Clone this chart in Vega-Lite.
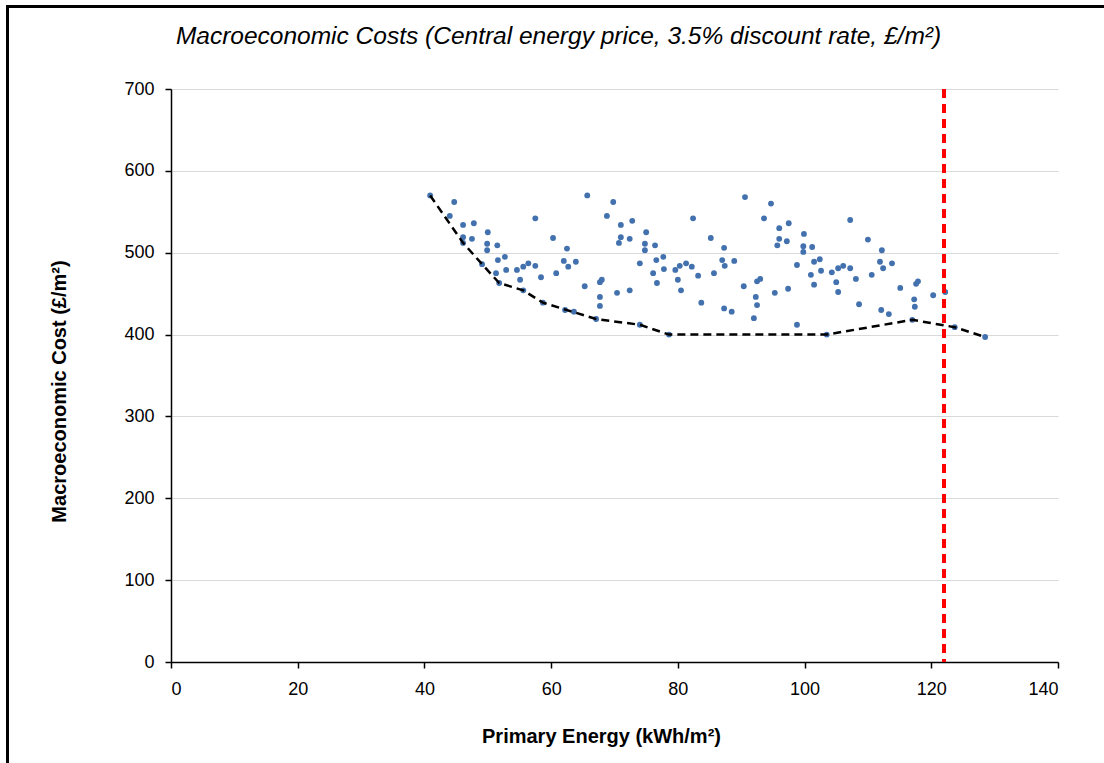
{
  "$schema": "https://vega.github.io/schema/vega-lite/v6.json",
  "width": 887,
  "height": 573,
  "autosize": {"type": "none"},
  "padding": {"left": 171, "top": 89, "right": 46, "bottom": 101},
  "background": "white",
  "title": {
    "text": "Macroeconomic Costs (Central energy price, 3.5% discount rate, £/m²)",
    "font": "Liberation Sans",
    "fontSize": 24.5,
    "fontStyle": "italic",
    "fontWeight": "normal",
    "color": "#000000",
    "frame": "group",
    "anchor": "middle",
    "dx": -56,
    "offset": -44
  },
  "config": {
    "view": {"stroke": null},
    "axis": {
      "labelFont": "Liberation Sans",
      "labelFontSize": 18,
      "labelColor": "#000000",
      "titleFont": "Liberation Sans",
      "titleFontSize": 20,
      "titleFontWeight": "bold",
      "titleColor": "#000000",
      "domainColor": "#000000",
      "domainWidth": 1.5,
      "tickColor": "#000000",
      "tickWidth": 1.5,
      "tickSize": 6
    }
  },
  "datasets": {
    "designs": [
      {"energy": 40.9, "cost": 570, "frontier": true},
      {"energy": 44.7, "cost": 562},
      {"energy": 44.0, "cost": 545},
      {"energy": 46.1, "cost": 534},
      {"energy": 47.8, "cost": 536},
      {"energy": 46.1, "cost": 519},
      {"energy": 47.5, "cost": 517},
      {"energy": 46.1, "cost": 512, "frontier": true},
      {"energy": 50.0, "cost": 525},
      {"energy": 49.9, "cost": 511},
      {"energy": 49.9, "cost": 503},
      {"energy": 51.5, "cost": 509},
      {"energy": 49.1, "cost": 486, "frontier": true},
      {"energy": 51.6, "cost": 491},
      {"energy": 52.7, "cost": 495},
      {"energy": 52.9, "cost": 479},
      {"energy": 51.3, "cost": 475},
      {"energy": 51.8, "cost": 463, "frontier": true},
      {"energy": 54.6, "cost": 479},
      {"energy": 55.1, "cost": 467},
      {"energy": 55.6, "cost": 483},
      {"energy": 56.4, "cost": 487},
      {"energy": 57.5, "cost": 484},
      {"energy": 57.5, "cost": 542},
      {"energy": 58.4, "cost": 470},
      {"energy": 55.6, "cost": 454, "frontier": true},
      {"energy": 58.7, "cost": 439, "frontier": true},
      {"energy": 60.3, "cost": 518},
      {"energy": 60.8, "cost": 475},
      {"energy": 62.0, "cost": 490},
      {"energy": 62.5, "cost": 505},
      {"energy": 62.7, "cost": 483},
      {"energy": 63.9, "cost": 489},
      {"energy": 62.2, "cost": 430},
      {"energy": 63.6, "cost": 428},
      {"energy": 65.3, "cost": 459},
      {"energy": 67.1, "cost": 419, "frontier": true},
      {"energy": 65.7, "cost": 570},
      {"energy": 67.7, "cost": 464},
      {"energy": 68.0, "cost": 467},
      {"energy": 67.7, "cost": 446},
      {"energy": 67.7, "cost": 435},
      {"energy": 68.8, "cost": 545},
      {"energy": 69.8, "cost": 562},
      {"energy": 71.0, "cost": 534},
      {"energy": 71.0, "cost": 519},
      {"energy": 70.7, "cost": 512},
      {"energy": 72.4, "cost": 517},
      {"energy": 72.8, "cost": 539},
      {"energy": 70.4, "cost": 451},
      {"energy": 72.4, "cost": 454},
      {"energy": 75.0, "cost": 525},
      {"energy": 74.8, "cost": 511},
      {"energy": 74.8, "cost": 503},
      {"energy": 76.4, "cost": 509},
      {"energy": 74.0, "cost": 487},
      {"energy": 76.6, "cost": 491},
      {"energy": 77.7, "cost": 495},
      {"energy": 76.1, "cost": 475},
      {"energy": 77.8, "cost": 480},
      {"energy": 76.7, "cost": 463},
      {"energy": 79.6, "cost": 479},
      {"energy": 80.3, "cost": 484},
      {"energy": 81.3, "cost": 487},
      {"energy": 82.2, "cost": 483},
      {"energy": 80.0, "cost": 467},
      {"energy": 80.5, "cost": 454},
      {"energy": 82.4, "cost": 542},
      {"energy": 83.2, "cost": 472},
      {"energy": 83.7, "cost": 439},
      {"energy": 74.0, "cost": 412, "frontier": true},
      {"energy": 78.6, "cost": 400, "frontier": true},
      {"energy": 85.2, "cost": 518},
      {"energy": 87.3, "cost": 506},
      {"energy": 87.0, "cost": 491},
      {"energy": 87.4, "cost": 484},
      {"energy": 88.9, "cost": 490},
      {"energy": 85.7, "cost": 475},
      {"energy": 90.4, "cost": 459},
      {"energy": 90.6, "cost": 568},
      {"energy": 92.5, "cost": 465},
      {"energy": 93.0, "cost": 468},
      {"energy": 92.3, "cost": 446},
      {"energy": 92.5, "cost": 436},
      {"energy": 92.0, "cost": 420},
      {"energy": 87.3, "cost": 432},
      {"energy": 88.5, "cost": 428},
      {"energy": 93.6, "cost": 542},
      {"energy": 94.7, "cost": 560},
      {"energy": 96.0, "cost": 530},
      {"energy": 96.0, "cost": 517},
      {"energy": 95.7, "cost": 509},
      {"energy": 97.2, "cost": 514},
      {"energy": 97.5, "cost": 536},
      {"energy": 95.3, "cost": 451},
      {"energy": 97.4, "cost": 456},
      {"energy": 98.8, "cost": 485},
      {"energy": 98.8, "cost": 412},
      {"energy": 99.9, "cost": 523},
      {"energy": 99.8, "cost": 508},
      {"energy": 99.8, "cost": 501},
      {"energy": 101.2, "cost": 507},
      {"energy": 101.5, "cost": 489},
      {"energy": 102.4, "cost": 492},
      {"energy": 101.0, "cost": 473},
      {"energy": 101.5, "cost": 461},
      {"energy": 102.6, "cost": 478},
      {"energy": 104.3, "cost": 476},
      {"energy": 105.0, "cost": 464},
      {"energy": 105.3, "cost": 452},
      {"energy": 105.3, "cost": 481},
      {"energy": 106.1, "cost": 484},
      {"energy": 107.2, "cost": 481},
      {"energy": 107.2, "cost": 540},
      {"energy": 108.1, "cost": 468},
      {"energy": 108.6, "cost": 437},
      {"energy": 103.5, "cost": 400, "frontier": true},
      {"energy": 110.0, "cost": 516},
      {"energy": 110.6, "cost": 473},
      {"energy": 111.9, "cost": 489},
      {"energy": 112.2, "cost": 503},
      {"energy": 112.4, "cost": 481},
      {"energy": 113.8, "cost": 487},
      {"energy": 112.1, "cost": 430},
      {"energy": 113.3, "cost": 425},
      {"energy": 115.1, "cost": 457},
      {"energy": 117.3, "cost": 443},
      {"energy": 117.4, "cost": 434},
      {"energy": 117.0, "cost": 418, "frontier": true},
      {"energy": 117.6, "cost": 462},
      {"energy": 117.9, "cost": 465},
      {"energy": 120.3, "cost": 448},
      {"energy": 122.2, "cost": 452},
      {"energy": 123.7, "cost": 409, "frontier": true},
      {"energy": 128.5, "cost": 397, "frontier": true}
    ]
  },
  "data": {"name": "designs"},
  "layer": [
    {
      "mark": {"type": "rect", "filled": false, "fill": null, "stroke": "#000000", "strokeWidth": 2.2, "clip": false},
      "encoding": {
        "x": {"datum": -25.8, "type": "quantitative"},
        "x2": {"datum": 160},
        "y": {"datum": 800.5, "type": "quantitative"},
        "y2": {"datum": -200}
      }
    },
    {
      "mark": {"type": "point", "filled": true, "size": 34, "color": "#4271AE", "opacity": 1},
      "encoding": {
        "x": {
          "field": "energy",
          "type": "quantitative",
          "scale": {"domain": [0, 140], "nice": false, "zero": false},
          "axis": {
            "title": "Primary Energy (kWh/m²)",
            "values": [0, 20, 40, 60, 80, 100, 120, 140],
            "grid": false,
            "labelPadding": 12,
            "titlePadding": 28,
            "titleX": 430
          }
        },
        "y": {
          "field": "cost",
          "type": "quantitative",
          "scale": {"domain": [0, 700], "nice": false, "zero": false},
          "axis": {
            "title": "Macroeconomic Cost (£/m²)",
            "values": [0, 100, 200, 300, 400, 500, 600, 700],
            "grid": true,
            "gridColor": "#D9D9D9",
            "gridWidth": 1.2,
            "labelPadding": 11,
            "titlePadding": 54,
            "titleY": 302
          }
        }
      }
    },
    {
      "transform": [{"filter": "datum.frontier === true"}],
      "mark": {"type": "line", "color": "#000000", "strokeWidth": 2.5, "strokeDash": [8, 5]},
      "encoding": {
        "x": {"field": "energy", "type": "quantitative"},
        "y": {"field": "cost", "type": "quantitative"}
      }
    },
    {
      "mark": {"type": "rule", "color": "#FF0000", "strokeWidth": 2.5, "strokeDash": [9, 6]},
      "encoding": {
        "x": {"datum": 122, "type": "quantitative"}
      }
    }
  ]
}
